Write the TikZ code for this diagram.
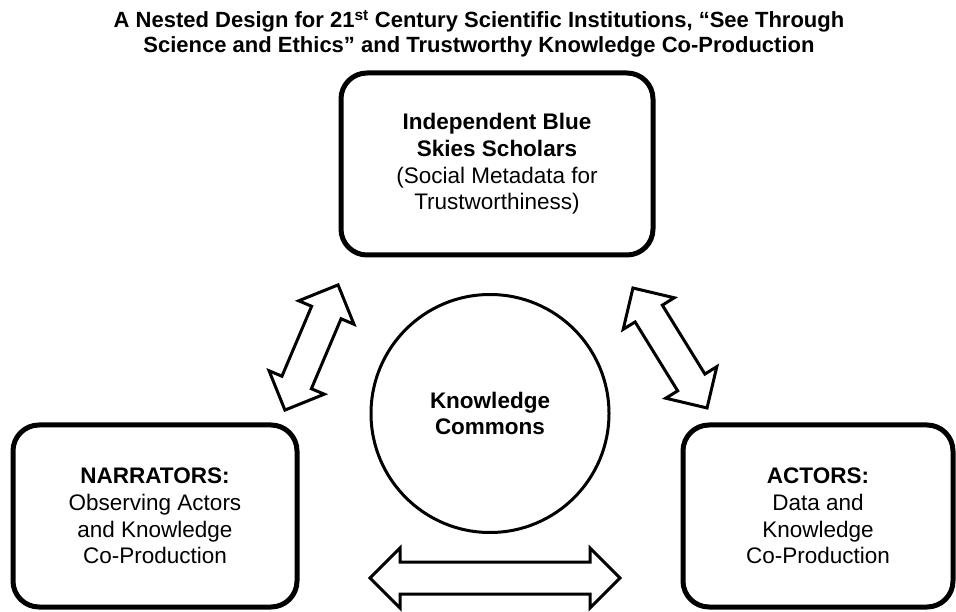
\documentclass[tikz,border=0pt]{standalone}
\usepackage{fontspec}
\setmainfont{Liberation Sans}

\begin{document}
\begin{tikzpicture}[x=1pt, y=1pt,
    box/.style={draw, line width=5pt, rounded corners=26pt, minimum width=#1,
      minimum height=182pt, inner sep=0pt, align=center,
      font=\fontsize{22.5}{26.7}\selectfont},
    hub/.style={draw, line width=3pt, circle, minimum size=238pt, inner sep=0pt,
      align=center, font=\bfseries\fontsize{22.5}{26.7}\selectfont},
    dblarrow/.pic={
      \draw[line width=3pt, fill=white]
        (-#1,0) -- ++(30,30) -- ++(0,-14) -- (#1-30,16) -- ++(0,14) -- (#1,0)
        -- ++(-30,-30) -- ++(0,14) -- (-#1+30,-16) -- ++(0,-14) -- cycle;}]
      \useasboundingbox (0,0) rectangle (956,611);
      % title
      \node[anchor=north, align=center, inner sep=0pt,
        font=\bfseries\fontsize{22}{25}\selectfont] (title) at (479,601)
        {A Nested Design for 21\textsuperscript{st} Century Scientific Institutions, “See Through\\
         Science and Ethics” and Trustworthy Knowledge Co-Production};
      % the three parties and the commons
      \node[box=312pt] (scholars) at (497,447)
        {\textbf{Independent Blue}\\\textbf{Skies Scholars}\\(Social Metadata for\\Trustworthiness)};
      \node[box=284pt] (narrators) at (155,95)
        {\textbf{NARRATORS:}\\Observing Actors\\and Knowledge\\Co-Production};
      \node[box=270pt] (actors) at (818,95)
        {\textbf{ACTORS:}\\Data and\\Knowledge\\Co-Production};
      \node[hub] (commons) at (490,197.5) {Knowledge\\Commons};
      % two-way exchanges
      \pic[rotate=67]    (narscho) at (311.5,263.5) {dblarrow=68};
      \pic[rotate=-58.3] (schoact) at (670,263)     {dblarrow=70.5};
      \pic               (naract)  at (495,33)      {dblarrow=125};
    \end{tikzpicture}
\end{document}
